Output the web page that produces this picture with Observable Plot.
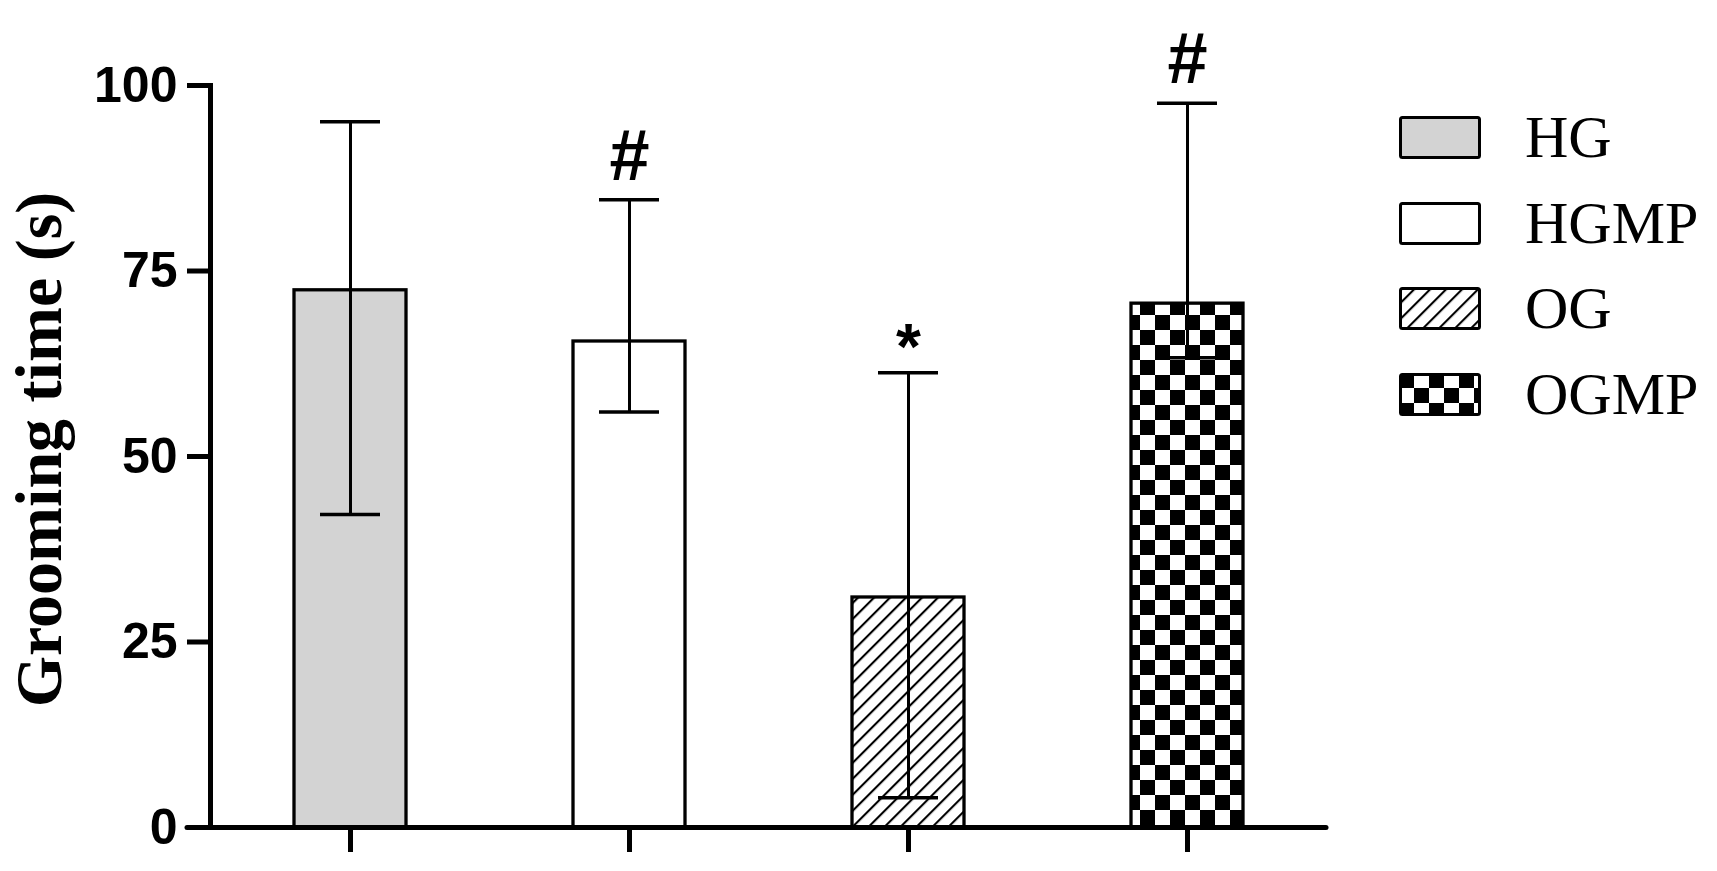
<!DOCTYPE html>
<html>
<head>
<meta charset="utf-8">
<script src="https://cdn.jsdelivr.net/npm/d3@7"></script>
<script src="https://cdn.jsdelivr.net/npm/@observablehq/plot@0.6"></script>
<style>
  html, body { margin: 0; padding: 0; background: #fff; }
  #wrap { position: relative; width: 1717px; height: 871px; overflow: hidden; }
  #legend { position: absolute; left: 1399px; top: 116px; font-family: "Liberation Serif", "Times New Roman", serif; font-size: 60px; color: #000; }
  .row { display: flex; align-items: center; height: 43px; margin-bottom: 42.7px; }
  .row svg { display: block; }
  .row span { margin-left: 44px; line-height: 43px; }
</style>
</head>
<body>
<svg width="0" height="0" style="position:absolute">
  <defs>
    <pattern id="hatch" width="11.3" height="11.3" patternUnits="userSpaceOnUse" patternTransform="rotate(45)">
      <rect width="11.3" height="11.3" fill="#fff"></rect>
      <line x1="0" y1="-2" x2="0" y2="14" stroke="#000" stroke-width="4.2"></line>
    </pattern>
    <pattern id="checker" width="30" height="30" patternUnits="userSpaceOnUse">
      <rect width="30" height="30" fill="#fff"></rect>
      <rect x="0" y="0" width="15" height="15" fill="#000"></rect>
      <rect x="15" y="15" width="15" height="15" fill="#000"></rect>
    </pattern>
  </defs>
</svg>
<div id="wrap">
  <div id="chart"></div>
  <div id="legend"></div>
</div>
<script>
// ---- data ----
const groups = ["HG", "HGMP", "OG", "OGMP"];
const means = [72.4, 65.5, 31.0, 70.6];
const errLow = [42.2, 56.0, 4.0, 63.3];
const errHigh = [95.1, 84.6, 61.3, 97.6];
const signif = ["", "#", "*", "#"];
const yTicks = [0, 25, 50, 75, 100];
const yLabel = "Grooming time (s)";

// ---- styles (not data) ----
const fills = { HG: "#d3d3d3", HGMP: "#ffffff", OG: "url(#hatch)", OGMP: "url(#checker)" };

const rows = groups.map((g, i) => ({ group: g, mean: means[i], low: errLow[i], high: errHigh[i], sig: signif[i] }));

const plot = Plot.plot({
  width: 1717,
  height: 871,
  marginLeft: 210,
  marginRight: 391,
  marginTop: 85,
  marginBottom: 44,
  style: { background: "#fff", overflow: "visible" },
  x: { type: "band", domain: groups, paddingInner: 0.6, paddingOuter: 0.3 },
  y: { domain: [0, 100] },
  color: { type: "identity" },
  marks: [
    Plot.barY(rows, { x: "group", y: "mean", fill: d => fills[d.group], stroke: "#000", strokeWidth: 3.3 }),
    Plot.ruleX(rows, { x: "group", y1: "low", y2: "high", stroke: "#000", strokeWidth: 3 }),
    Plot.tickY(rows, { x: "group", y: "high", stroke: "#000", strokeWidth: 3.5, insetLeft: 26, insetRight: 26 }),
    Plot.tickY(rows, { x: "group", y: "low", stroke: "#000", strokeWidth: 3.5, insetLeft: 26, insetRight: 26 }),
    Plot.text(rows.filter(d => d.sig === "#"), { x: "group", y: "high", text: "sig", lineAnchor: "bottom", dy: -20, fontSize: 72, fontWeight: "bold", fontFamily: "Liberation Sans, Arial, sans-serif", fill: "#000" }),
    Plot.text(rows.filter(d => d.sig === "*"), { x: "group", y: "high", text: "sig", lineAnchor: "bottom", dy: -4, fontSize: 64, fontWeight: "bold", fontFamily: "Liberation Sans, Arial, sans-serif", fill: "#000" }),
    Plot.axisY({ ticks: yTicks, tickSize: 23, tickPadding: 10, strokeWidth: 5, fontSize: 50, fontWeight: "bold", fontFamily: "Liberation Sans, Arial, sans-serif", label: null, fill: "#000", stroke: "#000" }),
    Plot.axisX({ tickSize: 25, strokeWidth: 5, tickFormat: () => "", label: null, stroke: "#000" }),
    Plot.frame({ anchor: "left", stroke: "#000", strokeWidth: 5 }),
    Plot.ruleY([0], { stroke: "#000", strokeWidth: 5, insetLeft: -23, strokeLinecap: "round" }),
    Plot.text([yLabel], { frameAnchor: "left", textAnchor: "middle", rotate: -90, dx: -171, dy: -7, fontSize: 66, fontWeight: "bold", fontFamily: "Liberation Serif, Times New Roman, serif", fill: "#000" })
  ]
});
document.getElementById("chart").appendChild(plot);

// ---- legend ----
const legend = d3.select("#legend");
groups.forEach(g => {
  const row = legend.append("div").attr("class", "row");
  const sw = row.append("svg").attr("width", 82).attr("height", 43);
  sw.append("rect").attr("x", 1.5).attr("y", 1.5).attr("width", 79).attr("height", 40)
    .attr("rx", 2).attr("fill", fills[g]).attr("stroke", "#000").attr("stroke-width", 3);
  row.append("span").text(g);
});
</script>
</body>
</html>
